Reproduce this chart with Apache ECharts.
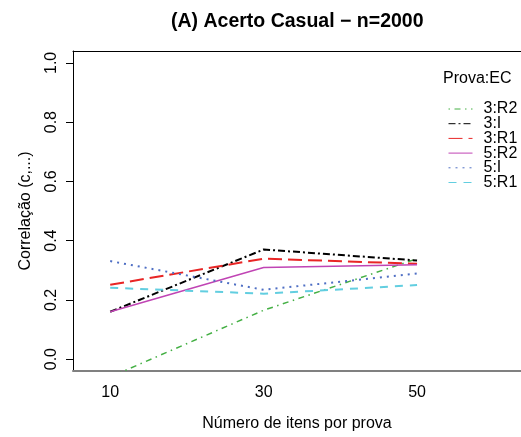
<!DOCTYPE html>
<html>
<head>
<meta charset="utf-8">
<script src="https://cdn.jsdelivr.net/npm/echarts@6/dist/echarts.min.js"></script>
<style>
  html, body { margin: 0; padding: 0; background: #fff; }
  #chart { width: 521px; height: 437px; }
</style>
</head>
<body>
<div id="chart"></div>
<script>
// Items per test (x) and correlation for each Prova:EC combination
const itensPorProva = [10, 30, 50];
const serieNomes = ['3:R2', '3:I', '3:R1', '5:R2', '5:I', '5:R1'];
const valores_3_R2 = [-0.06, 0.165, 0.339];
const valores_3_I  = [0.16, 0.37, 0.333];
const valores_3_R1 = [0.251, 0.339, 0.322];
const valores_5_R2 = [0.16, 0.309, 0.319];
const valores_5_I  = [0.331, 0.234, 0.289];
const valores_5_R1 = [0.241, 0.221, 0.25];
const yTicks = [0, 0.2, 0.4, 0.6, 0.8, 1.0];
const xTicks = [10, 30, 50];

const FONT = 'Liberation Sans, Arial, sans-serif';

const estilos = [
  { color: '#45B045', width: 1.5, type: [1.5, 4.5, 6, 4.5] },
  { color: '#000000', width: 2,   type: [7, 3, 2, 3] },
  { color: '#E82525', width: 2,   type: [14, 6] },
  { color: '#C044B4', width: 1.5, type: 'solid' },
  { color: '#4F6FC4', width: 2,   type: [2, 5] },
  { color: '#62CEE0', width: 2,   type: [8, 7] }
];
const valores = [valores_3_R2, valores_3_I, valores_3_R1, valores_5_R2, valores_5_I, valores_5_R1];

const series = serieNomes.map((nome, i) => ({
  name: nome,
  type: 'line',
  symbol: 'none',
  showSymbol: false,
  silent: true,
  animation: false,
  color: estilos[i].color,
  lineStyle: { color: estilos[i].color, width: estilos[i].width, type: estilos[i].type },
  data: itensPorProva.map((x, j) => [x, valores[i][j]]),
  clip: true
}));

const chart = echarts.init(document.getElementById('chart'), null, { renderer: 'canvas' });
chart.setOption({
  backgroundColor: '#ffffff',
  animation: false,
  textStyle: { fontFamily: FONT },
  title: {
    text: '(A) Acerto Casual \u2212 n=2000',
    left: 171,
    top: 12,
    padding: 0,
    textStyle: { fontFamily: FONT, fontSize: 19.5, fontWeight: 'bold', color: '#000' }
  },
  grid: { left: 73, top: 51, width: 454, height: 325, containLabel: false },
  legend: {
    orient: 'vertical',
    left: 448,
    top: 101,
    itemWidth: 24,
    itemHeight: 12,
    itemGap: -1.3,
    data: serieNomes,
    textStyle: { fontFamily: FONT, fontSize: 16, color: '#000', padding: [0, 0, 0, 6] },
    itemStyle: { opacity: 0 },
    lineStyle: { width: 1 },
    selectedMode: false,
    padding: 0
  },
  graphic: [
    {
      type: 'text',
      left: 443,
      top: 71,
      style: { text: 'Prova:EC', font: '16px ' + FONT, fill: '#000' }
    }
  ],
  xAxis: [
    {
      type: 'value',
      min: 5.15,
      max: 63.55,
      name: 'Número de itens por prova',
      nameLocation: 'middle',
      nameGap: 45,
      nameTextStyle: { fontFamily: FONT, fontSize: 16, color: '#000' },
      axisLine: { show: true, onZero: false, lineStyle: { color: '#808080', width: 2 } },
      axisTick: { show: false },
      splitLine: { show: false },
      axisLabel: {
        customValues: xTicks,
        margin: 14,
        fontFamily: FONT, fontSize: 16, color: '#000'
      }
    },
    {
      type: 'value',
      position: 'top',
      min: 5.15,
      max: 63.55,
      axisLine: { show: true, onZero: false, lineStyle: { color: '#000', width: 1 } },
      axisTick: { show: false },
      axisLabel: { show: false },
      splitLine: { show: false }
    }
  ],
  yAxis: {
    type: 'value',
    min: -0.04,
    max: 1.04,
    name: 'Correlação (c,...)',
    nameLocation: 'middle',
    nameGap: 39,
    nameTextStyle: { fontFamily: FONT, fontSize: 16, color: '#000' },
    axisLine: { show: true, onZero: false, lineStyle: { color: '#000', width: 1 } },
    axisTick: { show: true, customValues: yTicks, length: 7, lineStyle: { color: '#000' } },
    splitLine: { show: false },
    axisLabel: {
      customValues: yTicks,
      rotate: 90,
      margin: 13,
      formatter: v => v.toFixed(1),
      fontFamily: FONT, fontSize: 16, color: '#000'
    }
  },
  series: series
});
</script>
</body>
</html>
